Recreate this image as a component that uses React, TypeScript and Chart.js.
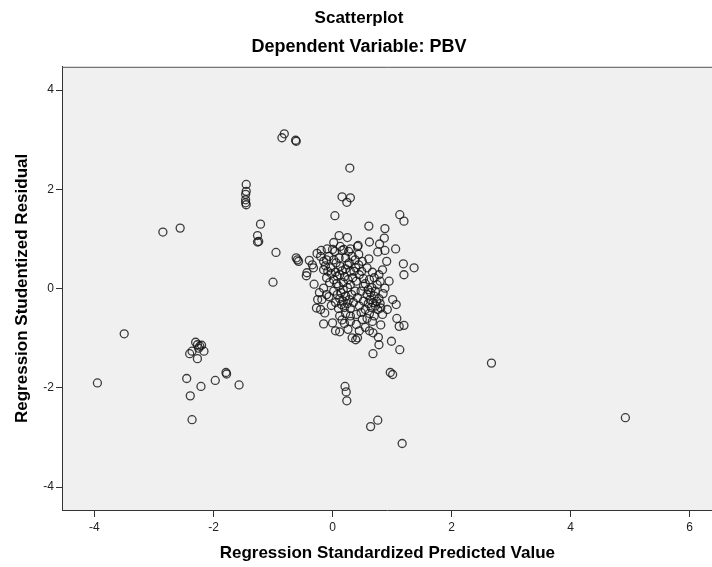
import { useEffect, useRef } from "react";
import { Chart, registerables } from "chart.js";

Chart.register(...registerables);

const CHART_TITLE = "Scatterplot";
const CHART_SUBTITLE = "Dependent Variable: PBV";
const X_TITLE = "Regression Standardized Predicted Value";
const Y_TITLE = "Regression Studentized Residual";

const xTickValues = [-4, -2, 0, 2, 4, 6];
const yTickValues = [-4, -2, 0, 2, 4];
const xMin = -4.545;
const xMax = 6.387;
const yMin = -4.46;
const yMax = 4.47;

// Group A: left-hand points and outliers
const predictedA = [
  -3.95, -3.5, -2.85, -2.56, -2.45, -2.39, -2.36, -2.21, -1.97, -1.79,
  -1.78, -1.57, -2.27, -2.23, -2.2, -2.16, -2.4, -2.36, -2.27, -2.3,
  -2.25, -1.45, -1.45, -1.46, -1.46, -1.46, -1.45, -1.21, -1.26, -1.26,
  -1.24, -0.95, -1.0, -0.61, -0.57, -0.59, -0.44, -0.85, -0.81, -0.62,
  -0.61,
];
const residualA = [
  -1.9, -0.91, 1.14, 1.22, -1.81, -2.16, -2.64, -1.97, -1.85, -1.69,
  -1.72, -1.94, -1.13, -1.16, -1.14, -1.26, -1.31, -1.26, -1.41, -1.08,
  -1.2, 2.1, 1.96, 1.9, 1.79, 1.73, 1.69, 1.3, 1.07, 0.94,
  0.95, 0.73, 0.13, 0.62, 0.55, 0.58, 0.26, 3.04, 3.12, 2.99,
  2.97,
];

// Group B: upper, right and lower spread
const predictedB = [
  0.29, 0.16, 0.3, 0.24, 0.04, 1.13, 1.2, 0.61, 0.88, 0.87,
  0.62, 0.79, 0.43, 0.44, 0.76, 0.88, 1.06, 0.61, 0.91, 1.19,
  1.37, 0.84, 0.39, 0.49, 0.67, 1.2, 0.95, 0.88, 1.01, 1.07,
  0.92, 0.81, 1.08, 1.12, 1.2, 0.81, 0.67, 0.42, 0.68, 0.77,
  0.78, 0.99, 0.68, 1.13, 0.97, 1.01, 0.21, 0.23, 0.24, 0.76,
  0.64, 1.17, 2.67, 4.92, 0.39,
];
const residualB = [
  2.43, 1.85, 1.83, 1.74, 1.47, 1.49, 1.36, 1.26, 1.21, 1.02,
  0.94, 0.9, 0.87, 0.69, 0.74, 0.77, 0.8, 0.6, 0.55, 0.5,
  0.42, 0.38, 0.42, 0.35, 0.33, 0.28, 0.15, 0.01, -0.22, -0.32,
  -0.42, -0.39, -0.6, -0.76, -0.74, -0.73, -0.66, -0.99, -0.89, -0.98,
  -1.13, -1.06, -1.31, -1.23, -1.69, -1.73, -1.97, -2.08, -2.26, -2.65,
  -2.78, -3.12, -1.5, -2.6, -1.03,
];

// Group C: periphery of the central cloud
const predictedC = [
  -0.31, -0.15, -0.06, -0.27, -0.2, -0.13, -0.15, 0.0, 0.05, 0.12,
  0.16, 0.3, 0.33, 0.11, 0.25, 0.02, -0.19, -0.26, -0.09, 0.0,
  0.16, 0.3, -0.39, -0.34, -0.32, -0.43, -0.2, -0.15, -0.06, 0.02,
  0.11, 0.22, 0.33, 0.25, 0.13, -0.03, -0.15, 0.3, 0.13, 0.19,
  0.27, 0.42, 0.04,
];
const residualC = [
  0.09, 0.01, -0.16, -0.39, -0.42, -0.49, -0.71, -0.69, -0.85, -0.87,
  -0.63, -0.66, -0.99, 1.07, 1.03, 0.93, 0.77, 0.71, 0.8, 0.79,
  0.77, 0.8, 0.57, 0.48, 0.42, 0.32, 0.65, 0.55, 0.65, 0.58,
  0.62, 0.62, 0.65, 0.48, 0.45, 0.42, 0.38, 0.35, 0.85, 0.79,
  0.75, 0.85, 0.75,
];

// Group D: dense core of the cloud
const predictedD = [
  -0.12, -0.08, -0.02, 0.05, 0.08, -0.1, 0.02, -0.05, 0.07, 0.12,
  0.16, 0.2, 0.18, 0.26, 0.34, 0.4, 0.45, 0.52, 0.58, 0.55,
  0.62, 0.7, 0.75, 0.66, 0.02, 0.08, 0.14, 0.12, 0.18, 0.22,
  0.25, 0.28, 0.2, 0.15, 0.1, 0.05, -0.02, 0.3, 0.35, 0.32,
  0.38, 0.42, 0.45, 0.48, 0.4, 0.3, 0.22, 0.12, 0.52, 0.55,
  0.58, 0.6, 0.63, 0.65, 0.68, 0.7, 0.72, 0.74, 0.76, 0.78,
  0.8, 0.62, 0.7, 0.58, 0.5, 0.85, 0.84, 0.72, 0.64, 0.1,
  0.25, 0.3, 0.18, 0.48, 0.52, 0.6, 0.36, 0.44, 0.5, 0.38,
  0.06, -0.1, 0.22, 0.28, 0.8, 0.78, -0.22, -0.18, -0.1, -0.25,
  0.2, 0.4, 0.55, 0.26, 0.45, 0.62,
];
const residualD = [
  0.46, 0.35, 0.3, 0.33, 0.25, 0.22, 0.18, 0.12, 0.1, 0.28,
  0.36, 0.24, 0.12, 0.18, 0.22, 0.15, 0.28, 0.2, 0.42, 0.1,
  0.18, 0.22, 0.08, 0.02, -0.05, -0.12, -0.08, -0.2, -0.25, -0.15,
  -0.3, -0.22, -0.38, -0.32, -0.4, -0.28, -0.34, -0.4, -0.28, -0.12,
  -0.05, -0.18, -0.35, -0.48, -0.52, -0.55, -0.5, -0.55, -0.25, -0.42,
  -0.12, -0.3, -0.22, -0.38, -0.28, -0.15, -0.35, -0.25, -0.42, -0.2,
  -0.3, -0.5, -0.55, -0.6, -0.62, -0.1, -0.52, -0.05, -0.08, 0.05,
  0.02, 0.08, -0.02, -0.05, 0.05, -0.02, 0.35, 0.48, 0.55, 0.58,
  0.52, 0.58, 0.4, 0.52, 0.15, 0.28, -0.08, -0.22, -0.12, -0.22,
  -0.7, -0.72, -0.78, -0.82, -0.85, -0.85,
];

const FONT = "'Liberation Sans', Arial, sans-serif";
const CANVAS_W = 718;
const CANVAS_H = 567;

export default function App() {
  const canvasRef = useRef<HTMLCanvasElement | null>(null);

  useEffect(() => {
    const canvas = canvasRef.current;
    if (!canvas) return;
    const xs = [...predictedA, ...predictedB, ...predictedC, ...predictedD];
    const ys = [...residualA, ...residualB, ...residualC, ...residualD];
    const points = xs.map((x, i) => ({ x, y: ys[i] }));

    const plotFrame = {
      id: "plotFrame",
      beforeDraw(chart: any) {
        const { ctx, chartArea } = chart;
        const { left, top, right, bottom } = chartArea;
        ctx.save();
        ctx.fillStyle = "#F0F0F0";
        ctx.fillRect(left, top, right - left, bottom - top);
        ctx.restore();
      },
      beforeDatasetsDraw(chart: any) {
        const { ctx, chartArea } = chart;
        const { left, top, right } = chartArea;
        ctx.save();
        ctx.strokeStyle = "#555555";
        ctx.lineWidth = 1;
        ctx.beginPath();
        ctx.moveTo(left, top + 0.5);
        ctx.lineTo(right, top + 0.5);
        ctx.stroke();
        ctx.restore();
      },
    };

    const chart = new Chart(canvas, {
      type: "scatter",
      data: {
        datasets: [
          {
            data: points,
            pointRadius: 4,
            pointHoverRadius: 4,
            pointStyle: "circle",
            borderColor: "rgba(20,20,20,0.82)",
            backgroundColor: "rgba(0,0,0,0)",
            borderWidth: 1.3,
          },
        ],
      },
      options: {
        animation: false,
        responsive: false,
        devicePixelRatio: 1,
        layout: { padding: 0 },
        plugins: {
          legend: { display: false },
          tooltip: { enabled: false },
          title: {
            display: true,
            text: CHART_TITLE,
            color: "#000",
            font: { family: FONT, size: 17, weight: "bold" },
            padding: { top: 8, bottom: 3 },
          },
          subtitle: {
            display: true,
            text: CHART_SUBTITLE,
            color: "#000",
            font: { family: FONT, size: 18, weight: "bold" },
            padding: { top: 5, bottom: 8.8 },
          },
        },
        scales: {
          x: {
            type: "linear",
            position: "bottom",
            min: xMin,
            max: xMax,
            afterFit: (s: any) => {
              s.height = 57;
            },
            afterBuildTicks: (s: any) => {
              s.ticks = xTickValues.map((v) => ({ value: v }));
            },
            grid: {
              display: true,
              drawOnChartArea: false,
              drawTicks: true,
              tickLength: 7,
              color: "#333",
              lineWidth: 1,
            },
            border: { display: true, color: "#333", width: 1 },
            ticks: {
              color: "#222",
              font: { family: FONT, size: 12 },
              padding: 3,
              maxRotation: 0,
              autoSkip: false,
            },
            title: {
              display: true,
              text: X_TITLE,
              color: "#000",
              font: { family: FONT, size: 17, weight: "bold" },
              padding: { top: 0, bottom: 3 },
            },
          },
          y: {
            type: "linear",
            position: "left",
            min: yMin,
            max: yMax,
            afterFit: (s: any) => {
              s.width = 62;
            },
            afterBuildTicks: (s: any) => {
              s.ticks = yTickValues.map((v) => ({ value: v }));
            },
            grid: {
              display: true,
              drawOnChartArea: false,
              drawTicks: true,
              tickLength: 6,
              color: "#333",
              lineWidth: 1,
            },
            border: { display: true, color: "#333", width: 1 },
            ticks: {
              color: "#222",
              font: { family: FONT, size: 12 },
              padding: 2,
              autoSkip: false,
            },
            title: {
              display: true,
              text: Y_TITLE,
              color: "#000",
              font: { family: FONT, size: 17, weight: "bold" },
              padding: { top: 12, bottom: 0 },
            },
          },
        },
      },
      plugins: [plotFrame],
    });

    return () => {
      chart.destroy();
    };
  }, []);

  return (
    <div
      style={{
        position: "absolute",
        left: 0,
        top: 0,
        width: 712,
        height: 567,
        overflow: "hidden",
        background: "#ffffff",
      }}
    >
      <canvas
        ref={canvasRef}
        width={CANVAS_W}
        height={CANVAS_H}
        style={{ display: "block", width: CANVAS_W, height: CANVAS_H }}
      />
    </div>
  );
}
